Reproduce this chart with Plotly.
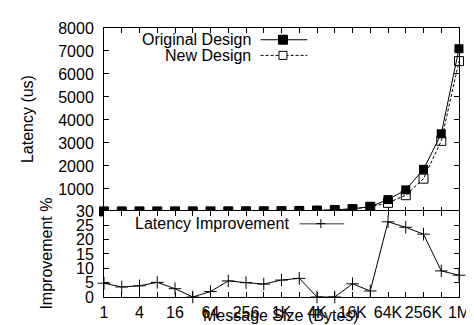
import plotly.graph_objects as go

# ---- data ----
sizes = [1, 2, 4, 8, 16, 32, 64, 128, 256, 512, 1024, 2048, 4096, 8192,
         16384, 32768, 65536, 131072, 262144, 524288, 1048576]
tick_labels = ["1", "4", "16", "64", "256", "1K", "4K", "16K", "64K", "256K", "1M"]
original_design = [22, 22, 22, 22, 23, 23, 24, 25, 27, 30, 35, 45, 60, 85,
                   130, 230, 535, 960, 1850, 3400, 7100]
new_design = [21, 21.2, 21.1, 20.8, 22.3, 23, 23.5, 23.6, 25.7, 28.6, 33, 42,
              60, 85, 124, 225, 395, 727, 1445, 3090, 6560]
improvement = [4.8, 3.5, 3.9, 5.1, 2.9, 0, 1.9, 5.6, 5.0, 4.5, 5.9, 6.5, 0, 0,
               4.6, 2.1, 26.2, 24.3, 21.9, 9.1, 7.6]

FONT = "Liberation Sans, Arial, Helvetica, sans-serif"
W, H = 474, 325
L, R, T, B = 96, 13, 14, 36
PW, PH = W - L - R, H - T - B

def px(x):
    return (x - L) / PW

def py(y):
    return (H - B - y) / PH

ticktext = []
for i, s in enumerate(sizes):
    ticktext.append(tick_labels[i // 2] if i % 2 == 0 else "")

fig = go.Figure()
fig.add_trace(go.Scatter(x=sizes, y=original_design, mode="lines+markers",
                         line=dict(color="black", width=1),
                         marker=dict(symbol="square", size=9, color="black"),
                         xaxis="x", yaxis="y", cliponaxis=False, showlegend=False))
fig.add_trace(go.Scatter(x=sizes, y=new_design, mode="lines+markers",
                         line=dict(color="black", width=1, dash="3px,2px"),
                         marker=dict(symbol="square-open", size=9, color="black",
                                     line=dict(width=1)),
                         xaxis="x", yaxis="y", cliponaxis=False, showlegend=False))
fig.add_trace(go.Scatter(x=sizes, y=improvement, mode="lines+markers",
                         line=dict(color="black", width=1),
                         marker=dict(symbol="cross-thin-open", size=9,
                                     line=dict(width=1, color="black")),
                         xaxis="x2", yaxis="y2", cliponaxis=False, showlegend=False))

axis_common = dict(showline=True, linecolor="black", linewidth=1, mirror="ticks",
                   ticks="inside", ticklen=5, tickcolor="black", tickwidth=1,
                   showgrid=False, zeroline=False,
                   tickfont=dict(family=FONT, size=16, color="black"))

fig.update_layout(
    width=W, height=H,
    margin=dict(l=L, r=R, t=T, b=B),
    paper_bgcolor="white", plot_bgcolor="white",
    showlegend=False,
    xaxis=dict(type="log", range=[0, 6.0206], anchor="y", tickvals=sizes,
               ticktext=ticktext, showticklabels=False, **axis_common),
    xaxis2=dict(type="log", range=[0, 6.0206], anchor="y2", matches="x",
                tickvals=sizes, ticktext=ticktext, ticklabelstandoff=1, **axis_common),
    yaxis=dict(domain=[(289 - 202) / PH, 1], range=[0, 8000], anchor="x",
               tickvals=[1000, 2000, 3000, 4000, 5000, 6000, 7000, 8000],
               ticklabelstandoff=6, **axis_common),
    yaxis2=dict(domain=[0, (289 - 201) / PH], range=[0, 30], anchor="x2",
                tickvals=[0, 5, 10, 15, 20, 25, 30], ticklabelstandoff=6,
                **axis_common),
)

ann_font = dict(family=FONT, size=16, color="black")
annotations = [
    dict(text="Latency (us)", x=px(18), y=py(107), textangle=-90),
    dict(text="Improvement %", x=px(37), y=py(245), textangle=-90),
    dict(text="Message Size (Bytes)", x=px(278), y=py(308)),
    dict(text="Original Design", x=px(249), y=py(26), xanchor="right"),
    dict(text="New Design", x=px(249), y=py(42), xanchor="right"),
    dict(text="Latency Improvement", x=px(288), y=py(214), xanchor="right"),
]
for a in annotations:
    a.setdefault("xanchor", "center")
    fig.add_annotation(xref="paper", yref="paper", yanchor="middle",
                       showarrow=False, font=ann_font, **a)

shapes = []
# Original Design key
shapes.append(dict(type="line", x0=px(257), x1=px(305), y0=py(26), y1=py(26),
                   line=dict(color="black", width=1)))
shapes.append(dict(type="rect", xsizemode="pixel", ysizemode="pixel",
                   xanchor=px(280), yanchor=py(26), x0=-4.5, x1=4.5, y0=-4.5, y1=4.5,
                   fillcolor="black", line=dict(color="black", width=1)))
# New Design key
shapes.append(dict(type="line", x0=px(257), x1=px(305), y0=py(42), y1=py(42),
                   line=dict(color="black", width=1, dash="3px,2px")))
shapes.append(dict(type="rect", xsizemode="pixel", ysizemode="pixel",
                   xanchor=px(280), yanchor=py(42), x0=-4, x1=4, y0=-4, y1=4,
                   fillcolor="white", line=dict(color="black", width=1)))
# Latency Improvement key
shapes.append(dict(type="line", x0=px(297), x1=px(343), y0=py(214), y1=py(214),
                   line=dict(color="#777777", width=1.5)))
shapes.append(dict(type="line", xsizemode="pixel", xanchor=px(319), x0=-4.5, x1=4.5,
                   y0=py(214), y1=py(214), line=dict(color="black", width=1)))
shapes.append(dict(type="line", ysizemode="pixel", yanchor=py(214), y0=-4.5, y1=4.5,
                   x0=px(319), x1=px(319), line=dict(color="black", width=1)))
for s in shapes:
    fig.add_shape(xref="paper", yref="paper", **s)

fig.write_html("out.html")
